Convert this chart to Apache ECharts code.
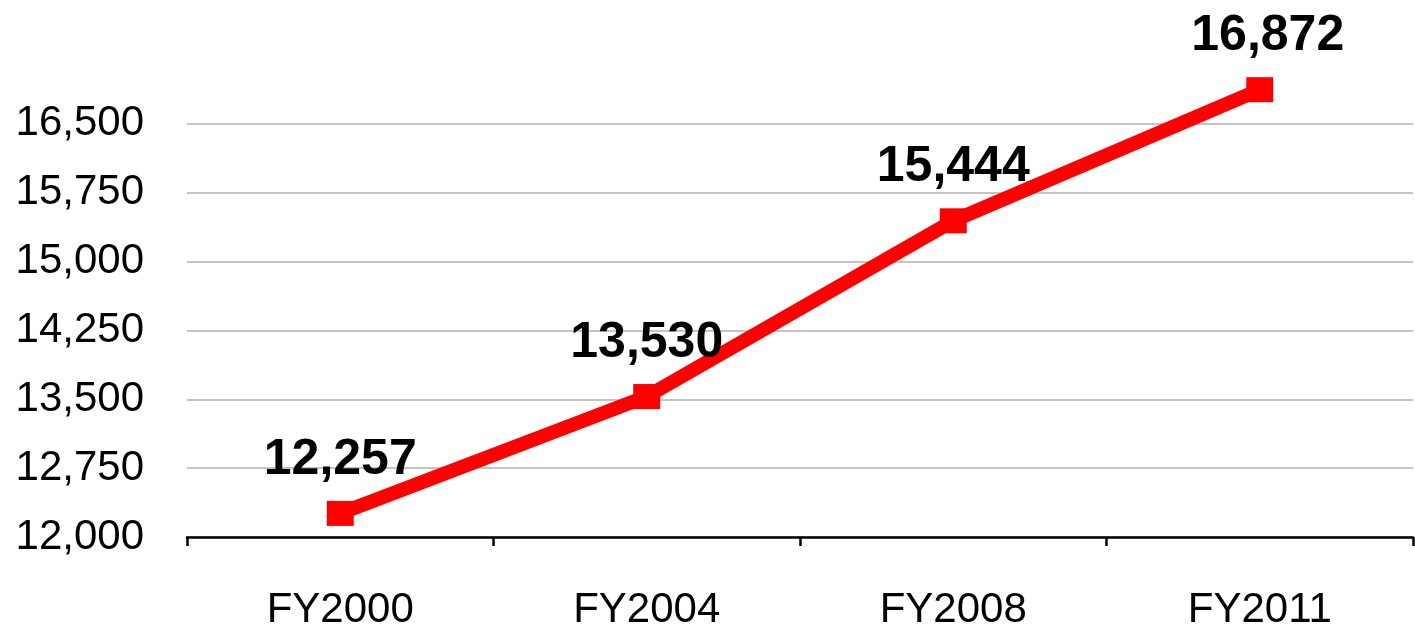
<!DOCTYPE html>
<html>
<head>
<meta charset="utf-8">
<script src="https://cdn.jsdelivr.net/npm/echarts@6/dist/echarts.min.js"></script>
<style>
  html, body { margin: 0; padding: 0; background: #fff; }
  #chart { width: 1415px; height: 631px; }
</style>
</head>
<body>
<div id="chart"></div>
<script>
const years = ['FY2000', 'FY2004', 'FY2008', 'FY2011']
const values = [12257, 13530, 15444, 16872]
const yMin = 12000
const yMax = 17250
const yStep = 750

const chart = echarts.init(document.getElementById('chart'))

// top line (17,250) is not drawn in the original, so make it transparent
const gridColors = []
for (let v = yMin; v <= yMax; v += yStep) {
  gridColors.push(v === yMax ? 'rgba(0,0,0,0)' : '#c4c4c4')
}

// last label sits a little to the right of its point in the original
const points = values.map((v, i) => {
  if (i === values.length - 1) {
    return { value: v, label: { offset: [8, 0] } }
  }
  return v
})

const options = {
  backgroundColor: '#ffffff',
  animation: false,
  grid: {
    left: 187,
    right: 2,
    top: 55,
    bottom: 94
  },
  xAxis: {
    type: 'category',
    data: years,
    boundaryGap: true,
    axisLine: {
      lineStyle: { color: '#000', width: 2.5 }
    },
    axisTick: {
      show: true,
      inside: false,
      length: 9,
      lineStyle: { color: '#000', width: 2.5 }
    },
    axisLabel: {
      margin: 52,
      fontFamily: 'Liberation Sans, Arial, sans-serif',
      fontSize: 42,
      color: '#000'
    }
  },
  yAxis: {
    type: 'value',
    min: yMin,
    max: yMax,
    interval: yStep,
    axisLine: { show: false },
    axisTick: { show: false },
    splitLine: {
      lineStyle: { color: gridColors, width: 2 }
    },
    axisLabel: {
      margin: 43,
      fontFamily: 'Liberation Sans, Arial, sans-serif',
      fontSize: 42,
      color: '#000',
      formatter: function (v) {
        if (v === yMax) return ''
        return v.toLocaleString('en-US')
      }
    }
  },
  series: [{
    type: 'line',
    data: points,
    symbol: 'rect',
    symbolSize: [27, 25],
    lineStyle: { color: '#ff0000', width: 14 },
    itemStyle: { color: '#ff0000' },
    label: {
      show: true,
      position: 'top',
      distance: 16,
      fontFamily: 'Liberation Sans, Arial, sans-serif',
      fontSize: 50,
      fontWeight: 'bold',
      color: '#000',
      formatter: function (p) {
        return p.value.toLocaleString('en-US')
      }
    }
  }]
}

chart.setOption(options)
</script>
</body>
</html>
